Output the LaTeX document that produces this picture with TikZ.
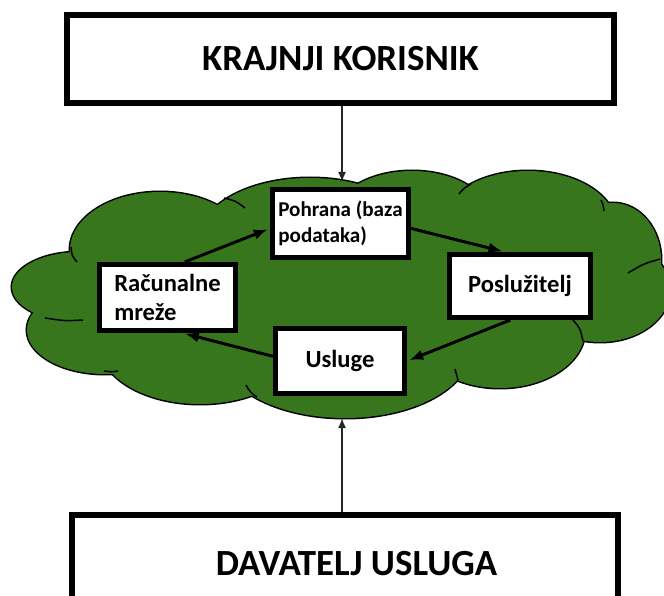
\documentclass[tikz,border=0pt]{standalone}
\usepackage{fontspec}
\setmainfont{Carlito}
\usetikzlibrary{arrows.meta,positioning}
\definecolor{cloudgreen}{RGB}{56,118,29}

% lobes of the cloud: centre x / centre y / x radius / y radius (pixels)
\newcommand\cloudlobes{80/287/68/35, 160/250/90/58, 310/238/110/60,
  412/221/80/50, 528/226/88/55, 613/260/48/57, 600/290/70/52,
  500/330/85/58, 345/350/125/68, 200/345/100/59, 105/330/78/44,
  340/295/260/90}

\begin{document}
\begin{tikzpicture}[
    x=0.03cm, y=-0.03cm,
    bigbox/.style={rectangle, draw, line width=0.18cm, fill=white, minimum width=16.41cm, minimum height=2.64cm, font=\fontsize{31.5}{36}\selectfont\bfseries},
    smallbox/.style={rectangle, draw, line width=0.165cm, fill=white, align=left, inner sep=0pt, font=\fontsize{21}{25}\selectfont\bfseries},
    flow/.style={-{Latex[length=0.42cm,width=0.32cm]}, line width=0.09cm, shorten >=0.07cm},
    feed/.style={-{Latex[length=0.3cm,width=0.24cm]}, line width=0.05cm, black!85},
    seam/.style={line width=0.045cm}
]
    \useasboundingbox (0,0) rectangle (664,596);

    % cloud: outline first, then fill again to hide the inner lines
    \foreach \cx/\cy/\rx/\ry in \cloudlobes
        \draw[line width=0.09cm, fill=cloudgreen] (\cx,\cy) ellipse [x radius=\rx, y radius=\ry];
    \foreach \cx/\cy/\rx/\ry in \cloudlobes
        \fill[cloudgreen] (\cx,\cy) ellipse [x radius=\rx, y radius=\ry];
    % short seams where the lobes meet
    \draw[seam] (71,247) .. controls (72,256) .. (77,262);
    \draw[seam] (224,198) .. controls (236,201) .. (245,208);
    \draw[seam] (459,194) .. controls (464,188) .. (471,184);
    \draw[seam] (601,200) .. controls (603,204) .. (604,211);
    \draw[seam] (628,273) .. controls (643,264) .. (660,259);
    \draw[seam] (573,320) .. controls (580,328) .. (583,341);
    \draw[seam] (455,369) .. controls (457,374) .. (458,380);
    \draw[seam] (257,397) .. controls (250,392) .. (246,385);
    \draw[seam] (104,371) .. controls (112,372) .. (118,371);
    \draw[seam] (45,318) .. controls (65,321) .. (83,320);

    \node[bigbox] (korisnik) at (340.5,59) {KRAJNJI KORISNIK};
    \node[bigbox, minimum width=16.38cm, minimum height=2.94cm] (davatelj) at (345,564) {\hspace*{0.69cm}DAVATELJ USLUGA};

    \node[smallbox, minimum width=4.07cm, minimum height=2.03cm, font=\fontsize{18}{22}\selectfont\bfseries] (pohrana) at (340.5,223.5) {Pohrana (baza\\podataka)};
    \node[smallbox, minimum width=4.07cm, minimum height=1.97cm] (mreze) at (167.5,297.5) {Računalne\\mreže};
    \node[smallbox, minimum width=4.22cm, minimum height=1.88cm] (posluzitelj) at (520,286) {Poslužitelj};
    \node[smallbox, minimum width=3.86cm, minimum height=1.94cm] (usluge) at (340,361) {Usluge};

    \draw[flow] (mreze.64) -- (pohrana.184);
    \draw[flow] (pohrana.-4) -- (posluzitelj.114);
    \draw[flow] (posluzitelj.254) -- (usluge.east);
    \draw[flow] (usluge.176) -- (mreze.293);

    \coordinate (cloudtop) at (342,182);
    \coordinate (cloudbot) at (342,418);
    \draw[feed] (korisnik.south -| cloudtop) -- (cloudtop);
    \draw[feed] (davatelj.north -| cloudbot) -- (cloudbot);
\end{tikzpicture}
\end{document}
